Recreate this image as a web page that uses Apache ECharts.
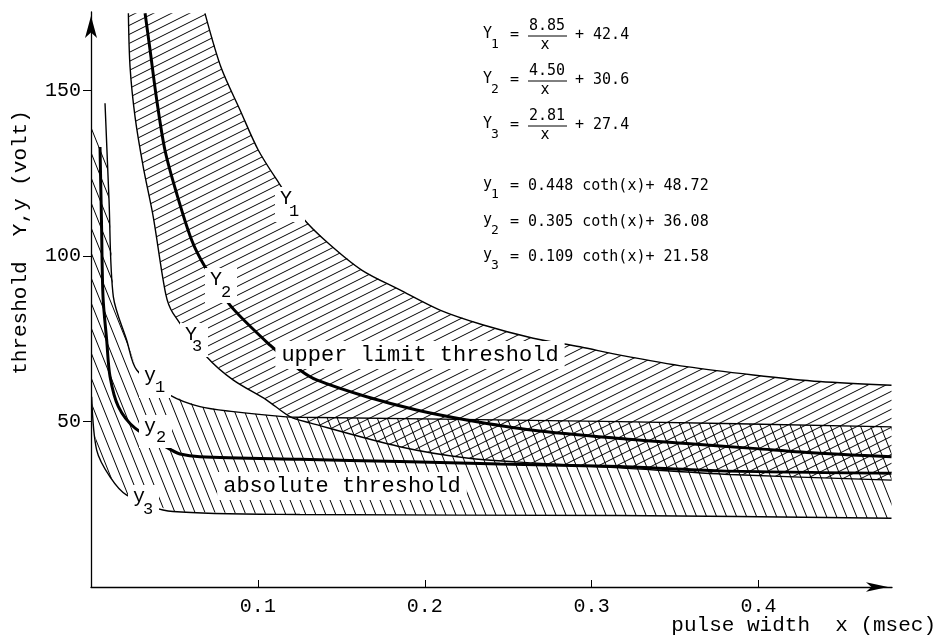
<!DOCTYPE html>
<html>
<head>
<meta charset="utf-8">
<script src="https://cdn.jsdelivr.net/npm/echarts@6/dist/echarts.min.js"></script>
<style>html,body{margin:0;padding:0;background:#fff}#c{width:950px;height:643px}</style>
</head>
<body>
<div id="c"></div>
<script>
// ---- data: [pulse width x (msec), threshold (volt)] ----
const xTickValues = [0.1, 0.2, 0.3, 0.4];
const yTickValues = [50, 100, 150];

// upper limit threshold curves
const upperY1 = [[0.0683,173.4],[0.0779,157.1],[0.0893,144.2],[0.1002,132.1],[0.1126,122.1],[0.1272,111.4],[0.1422,103.9],[0.1622,95.8],[0.1851,89.8],[0.2091,83.7],[0.2351,79.2],[0.2650,75.2],[0.2930,72.6],[0.3170,70.1],[0.3569,66.6],[0.3968,64.1],[0.4368,62.1],[0.4797,61.0]];
const upperY2 = [[0.0324,173.4],[0.0354,162.3],[0.0394,147.2],[0.0443,132.1],[0.0513,119.0],[0.0603,104.9],[0.0683,96.8],[0.0833,85.2],[0.1073,73.1],[0.1252,65.6],[0.1352,62.6],[0.1652,57.5],[0.1951,53.5],[0.2251,50.5],[0.2650,47.4],[0.3170,44.9],[0.3569,43.4],[0.3968,41.9],[0.4368,40.4],[0.4797,39.4]];
const upperY3 = [[0.0224,173.4],[0.0234,157.2],[0.0264,142.1],[0.0313,127.0],[0.0373,111.9],[0.0448,88.5],[0.0491,82.8],[0.0693,69.6],[0.0851,62.6],[0.1053,56.5],[0.1192,51.5],[0.1312,49.6],[0.1851,42.4],[0.2251,39.0],[0.2648,37.5],[0.3170,36.0],[0.3829,34.0],[0.4797,32.3]];

// absolute threshold curves
const absY1 = [[0.0084,146.2],[0.0108,117.0],[0.0134,87.7],[0.0214,74.6],[0.0274,65.6],[0.0473,58.0],[0.0653,54.5],[0.0853,53.0],[0.1152,51.5],[0.1252,51.3],[0.3170,50.0],[0.4797,48.4]];
const absY2 = [[0.0054,133.0],[0.0063,110.0],[0.0072,87.7],[0.0094,74.6],[0.0114,63.6],[0.0164,54.5],[0.0264,48.0],[0.0483,41.4],[0.0533,40.2],[0.0653,39.4],[0.1252,38.6],[0.1851,37.9],[0.2451,37.2],[0.3170,36.4],[0.3769,35.1],[0.4797,34.4]];
const absY3 = [[0.0004,57.5],[0.0034,41.4],[0.0114,33.3],[0.0214,27.8],[0.0491,22.8],[0.1252,21.9],[0.3170,21.6],[0.4797,20.8]];
// top of the hatched strip next to the y axis
const absHatchCap = [[0,139],[0.0054,136],[0.0095,133]];

// formula texts
const upperEq = [
  {sub:'1', num:'8.85', add:'+ 42.4'},
  {sub:'2', num:'4.50', add:'+ 30.6'},
  {sub:'3', num:'2.81', add:'+ 27.4'}
];
const lowerEq = [
  {sub:'1', rest:'= 0.448 coth(x)+ 48.72'},
  {sub:'2', rest:'= 0.305 coth(x)+ 36.08'},
  {sub:'3', rest:'= 0.109 coth(x)+ 21.58'}
];
const xTitle = 'pulse width  x (msec)';
const yTitle = 'threshold  Y,y (volt)';

// ---- hatch patterns ----
function hatch(w, h, forward) {
  const c = document.createElement('canvas');
  c.width = w; c.height = h;
  const g = c.getContext('2d');
  g.strokeStyle = '#000'; g.lineWidth = 1;
  g.beginPath();
  for (let k = -2; k <= 2; k++) {
    if (forward) { g.moveTo(-w, 2*h + k*h); g.lineTo(2*w, -h + k*h); }
    else { g.moveTo(-w, -h + k*h); g.lineTo(2*w, 2*h + k*h); }
  }
  g.stroke();
  return {type:'pattern', image:c, repeat:'repeat'};
}
const patUpper = hatch(18, 9, true);
const patAbs = hatch(10, 25, false);

const upperPoly = upperY1.concat(upperY3.slice().reverse());
const absPoly = absHatchCap
  .concat(absY1.filter(p => p[1] <= 133))
  .concat([[absY1[absY1.length-1][0], absY3[absY3.length-1][1]]])
  .concat(absY3.slice().reverse())
  .concat([[0, absY3[0][1]]]);

function band(name, poly, pat) {
  return {
    type:'custom', name, coordinateSystem:'cartesian2d', silent:true, z:1, clip:true,
    data:[poly[0]],
    renderItem: (params, api) => ({
      type:'polygon',
      shape:{points: poly.map(p => api.coord(p))},
      style:{fill: pat, stroke: null}
    })
  };
}
function curve(name, data, w) {
  return {type:'line', name, data, symbol:'none', showSymbol:false, smooth:0.3, silent:true, z:3,
    lineStyle:{color:'#000', width:w}};
}

const MONO = '"Liberation Mono", "DejaVu Sans Mono", monospace';
const EQ = '"DejaVu Sans Mono", monospace';

function txt(text, x, y, font, align, valign, extra) {
  return Object.assign({type:'text', x, y, z:100,
    style: Object.assign({text, font, fill:'#000', align: align, verticalAlign: valign,
      textAlign: align, textVerticalAlign: valign}, extra || {})});
}
function subLabel(letter, sub, x, y, dx, dy) {
  return {type:'group', z:100, children:[
    {type:'rect', z:100, shape:{x:x-11, y:y-12, width:dx+22, height:dy+23}, style:{fill:'#fff'}},
    txt(letter, x, y, '20px ' + MONO, 'center', 'middle'),
    txt(sub, x+dx, y+dy, '17px ' + MONO, 'center', 'middle')
  ]};
}

const graphics = [];
// formulas (upper)
[35, 80, 125].forEach((yc, i) => {
  const e = upperEq[i];
  graphics.push(txt('Y', 483, yc-1, '15px ' + EQ, 'left', 'middle'));
  graphics.push(txt(e.sub, 491, yc+10, '13px ' + EQ, 'left', 'middle'));
  graphics.push(txt('=', 510, yc, '15px ' + EQ, 'left', 'middle'));
  graphics.push(txt(e.num, 547, yc-9, '15px ' + EQ, 'center', 'middle'));
  graphics.push({type:'line', z:100, shape:{x1:528, y1:yc+1, x2:567, y2:yc+1}, style:{stroke:'#000', lineWidth:1}});
  graphics.push(txt('x', 545, yc+10, '15px ' + EQ, 'center', 'middle'));
  graphics.push(txt(e.add, 575, yc, '15px ' + EQ, 'left', 'middle'));
});
[186, 222, 257].forEach((yc, i) => {
  const e = lowerEq[i];
  graphics.push(txt('y', 483, yc-2, '15px ' + EQ, 'left', 'middle'));
  graphics.push(txt(e.sub, 491, yc+9, '13px ' + EQ, 'left', 'middle'));
  graphics.push(txt(e.rest, 510, yc, '15px ' + EQ, 'left', 'middle'));
});
// in-plot labels
graphics.push(subLabel('Y', '1', 286, 199, 8, 12));
graphics.push(subLabel('Y', '2', 216, 280, 10, 12));
graphics.push(subLabel('Y', '3', 191, 335, 6, 11));
graphics.push(subLabel('y', '1', 150, 376, 10, 11));
graphics.push(subLabel('y', '2', 150, 427, 11, 10));
graphics.push(subLabel('y', '3', 139, 497, 9, 12));
graphics.push(txt('upper limit threshold', 420, 355, '22px ' + MONO, 'center', 'middle', {backgroundColor:'#fff', padding:[3,6]}));
graphics.push(txt('absolute threshold', 342, 486, '22px ' + MONO, 'center', 'middle', {backgroundColor:'#fff', padding:[3,6]}));
// x axis title
graphics.push(txt(xTitle, 936, 625, '21px ' + MONO, 'right', 'middle'));

const chart = echarts.init(document.getElementById('c'), null, {renderer:'canvas'});
chart.setOption({
  animation:false,
  backgroundColor:'#fff',
  grid:{left:91, right:58, top:12, bottom:56, containLabel:false, outerBoundsMode:'none'},
  xAxis:{
    type:'value', min:0, max:0.48, interval:0.1,
    axisLine:{show:true, onZero:false, lineStyle:{color:'#000', width:1.3},
      symbol:['none','arrow'], symbolSize:[7,22], symbolOffset:[0,-4]},
    axisTick:{show:true, inside:true, length:7, customValues:xTickValues, lineStyle:{color:'#000'}},
    axisLabel:{customValues:xTickValues, formatter:v => v.toFixed(1), fontFamily:MONO, fontSize:20, color:'#000', margin:10},
    splitLine:{show:false}
  },
  yAxis:{
    type:'value', min:0, max:173.8, interval:50,
    axisLine:{show:true, onZero:false, lineStyle:{color:'#000', width:1.3},
      symbol:['none','arrow'], symbolSize:[9,22], symbolOffset:[0,-4]},
    axisTick:{show:true, inside:false, length:8, customValues:yTickValues, lineStyle:{color:'#000'}},
    axisLabel:{customValues:yTickValues, fontFamily:MONO, fontSize:20, color:'#000', margin:10},
    splitLine:{show:false},
    name:yTitle, nameLocation:'middle', nameGap:71, nameRotate:90,
    nameTextStyle:{fontFamily:MONO, fontSize:21, color:'#000', verticalAlign:'middle', padding:[0,0,0,114]}
  },
  series:[
    band('absolute band', absPoly, patAbs),
    band('upper band', upperPoly, patUpper),
    curve('Y1', upperY1, 1.4),
    curve('Y2', upperY2, 3),
    curve('Y3', upperY3, 1.4),
    curve('y1', absY1, 1.4),
    curve('y2', absY2, 3),
    curve('y3', absY3, 1.4)
  ],
  graphic: graphics
});
</script>
</body>
</html>
